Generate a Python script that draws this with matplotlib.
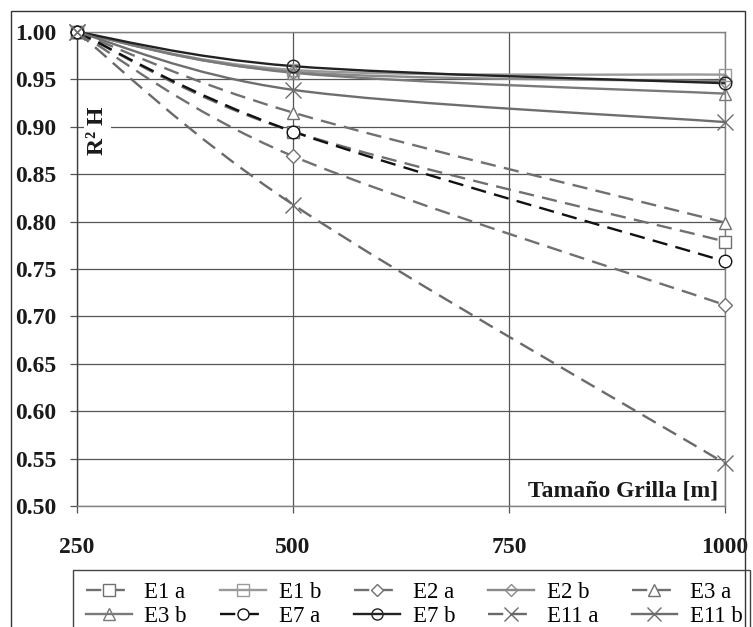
import matplotlib
matplotlib.use("Agg")
import matplotlib.pyplot as plt
from matplotlib.path import Path
from matplotlib.patches import PathPatch, Rectangle
from matplotlib.lines import Line2D

# Grid sizes [m] and R² H for each scenario
grid_size = [250, 500, 1000]
series_names = ["E1 a", "E1 b", "E2 a", "E2 b", "E3 a",
                "E3 b", "E7 a", "E7 b", "E11 a", "E11 b"]
e1_a = [1.000, 0.895, 0.779]
e1_b = [1.000, 0.960, 0.955]
e2_a = [1.000, 0.869, 0.712]
e2_b = [1.000, 0.958, 0.948]
e3_a = [1.000, 0.915, 0.799]
e3_b = [1.000, 0.957, 0.935]
e7_a = [1.000, 0.895, 0.758]
e7_b = [1.000, 0.964, 0.946]
e11_a = [1.000, 0.818, 0.545]
e11_b = [1.000, 0.939, 0.905]
x_ticks = [250, 500, 750, 1000]
y_ticks = [0.50, 0.55, 0.60, 0.65, 0.70, 0.75, 0.80, 0.85, 0.90, 0.95, 1.00]

values = [e1_a, e1_b, e2_a, e2_b, e3_a, e3_b, e7_a, e7_b, e11_a, e11_b]
styles = [
    # color, dashed, marker, marker face
    ("#707070", True, "s", "white"),
    ("#9a9a9a", False, "s", "none"),
    ("#707070", True, "D", "white"),
    ("#8a8a8a", False, "D", "none"),
    ("#707070", True, "^", "white"),
    ("#7a7a7a", False, "^", "none"),
    ("#111111", True, "o", "white"),
    ("#222222", False, "o", "none"),
    ("#6a6a6a", True, "x", "none"),
    ("#6e6e6e", False, "x", "none"),
]
marker_sizes = {"s": 9, "D": 7, "^": 9, "o": 9, "x": 11}

plt.rcParams["font.family"] = ["Liberation Serif", "DejaVu Serif"]
plt.rcParams["lines.scale_dashes"] = False
DASH = (0, (11, 6))

W, H = 753, 627
fig = plt.figure(figsize=(W / 100, H / 100), dpi=100)
ax = fig.add_axes([77 / W, 1 - 506 / H, (725 - 77) / W, (506 - 32) / H])


def smooth_path(xs, ys):
    """Smoothed curve through the points (cubic Bezier, Catmull-Rom tangents)."""
    pts = list(zip(xs, ys))
    n = len(pts)
    verts = [pts[0]]
    codes = [Path.MOVETO]
    for i in range(n - 1):
        p0 = pts[max(i - 1, 0)]
        p1 = pts[i]
        p2 = pts[i + 1]
        p3 = pts[min(i + 2, n - 1)]
        c1 = (p1[0] + (p2[0] - p0[0]) / 6, p1[1] + (p2[1] - p0[1]) / 6)
        c2 = (p2[0] - (p3[0] - p1[0]) / 6, p2[1] - (p3[1] - p1[1]) / 6)
        verts += [c1, c2, p2]
        codes += [Path.CURVE4] * 3
    return Path(verts, codes)


handles = []
for name, vals, (col, dashed, mk, mface) in zip(series_names, values, styles):
    ls = DASH if dashed else "-"
    lw = 1.7
    patch = PathPatch(smooth_path(grid_size, vals), facecolor="none",
                      edgecolor=col, linewidth=lw, linestyle=ls, zorder=3)
    ax.add_patch(patch)
    ms = marker_sizes[mk]
    ax.plot(grid_size, vals, linestyle="none", marker=mk, markersize=ms,
            markerfacecolor=mface, markeredgecolor=col, markeredgewidth=1.0,
            zorder=4, clip_on=False)
    handles.append(Line2D([], [], color=col, linewidth=lw, linestyle=ls,
                          marker=mk, markersize=ms - 1, markerfacecolor=mface,
                          markeredgecolor=col, markeredgewidth=1.0, label=name))

ax.set_xlim(250, 1000)
ax.set_ylim(0.50, 1.00)
ax.set_xticks(x_ticks)
ax.set_yticks(y_ticks)
ax.set_xticklabels([str(v) for v in x_ticks])
ax.set_yticklabels([f"{v:.2f}" for v in y_ticks])
ax.grid(True, color="#555555", linewidth=0.9)
ax.set_axisbelow(True)
for side in ["top", "right", "bottom"]:
    ax.spines[side].set_color("#808080")
    ax.spines[side].set_linewidth(1.0)
ax.spines["left"].set_color("#404040")
ax.spines["left"].set_linewidth(1.0)
ax.tick_params(axis="both", direction="out", length=5, width=0.9,
               color="#555555")
ax.tick_params(axis="y", pad=10)
ax.tick_params(axis="x", pad=17)
for lab in ax.get_xticklabels() + ax.get_yticklabels():
    lab.set_fontweight("bold")
    lab.set_fontsize(17)
    lab.set_color("#1a1a1a")

ax.text(274, 0.896, "R² H", rotation=90, ha="center", va="center",
        fontsize=17, fontweight="bold", color="#1a1a1a", zorder=2,
        bbox=dict(facecolor="white", edgecolor="none", pad=2))
ax.text(992, 0.516, "Tamaño Grilla [m]", ha="right", va="center",
        fontsize=17, fontweight="bold", color="#1a1a1a")

# outer chart frame and legend frame
fig.patches.append(Rectangle((11 / W, -0.05), (745 - 11) / W, 1 - 11 / H + 0.05,
                             transform=fig.transFigure, facecolor="none",
                             edgecolor="#333333", linewidth=1.0))
fig.patches.append(Rectangle((73 / W, -0.05), (750 - 73) / W, 1 - 570 / H + 0.05,
                             transform=fig.transFigure, facecolor="none",
                             edgecolor="#444444", linewidth=1.0))

# matplotlib fills legend columns first; reorder for row-wise reading
ncol = 5
order = []
for c in range(ncol):
    order += [c, c + ncol]
leg = fig.legend([handles[i] for i in order], [series_names[i] for i in order],
                 ncol=ncol, loc="upper left", bbox_to_anchor=(86 / W, 1 - 582 / H),
                 frameon=False, fontsize=16.5, handlelength=2.0,
                 handletextpad=0.55, columnspacing=1.45, labelspacing=0.12,
                 borderaxespad=0, borderpad=0)

fig.savefig("out.png", dpi=100)
